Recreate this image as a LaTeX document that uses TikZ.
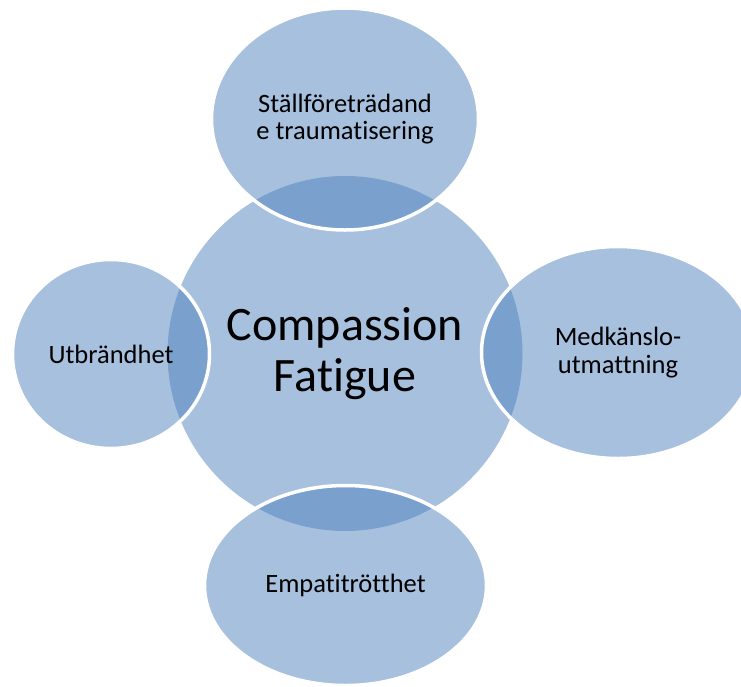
\documentclass[tikz,border=0pt]{standalone}
\usepackage{fontspec}
\setmainfont{Carlito}[RawFeature={-liga;-clig;-calt;-dlig}]
\usetikzlibrary{shapes.geometric}
\definecolor{accent}{HTML}{4F81BD}

\begin{document}
\begin{tikzpicture}[x=1pt,y=-1pt,
  blob/.style={ellipse,inner sep=0pt,align=center,fill=accent,fill opacity=.5,text opacity=1},
  ring/.style={blob,draw=white,line width=3.5pt,font=\fontsize{26.5}{27.5}\selectfont}]
\useasboundingbox (0,0) rectangle (741,686);

\node[blob,minimum size=355pt,font=\fontsize{48}{51}\selectfont] (hub) at (345,353.5) {Compassion\\Fatigue};

\node[ring,minimum width=267pt,minimum height=222pt] (top) at (345,119) {Ställföreträdand\\e traumatisering};
\node[ring,minimum width=273pt,minimum height=212pt] (right) at (618,352.5) {Medkänslo-\\utmattning};
\node[ring,minimum width=282pt,minimum height=200pt] (bottom) at (345.5,585.5) {Empatitrötthet};
\node[ring,minimum width=197pt,minimum height=189pt] (left) at (111,354) {Utbrändhet};
\end{tikzpicture}
\end{document}
